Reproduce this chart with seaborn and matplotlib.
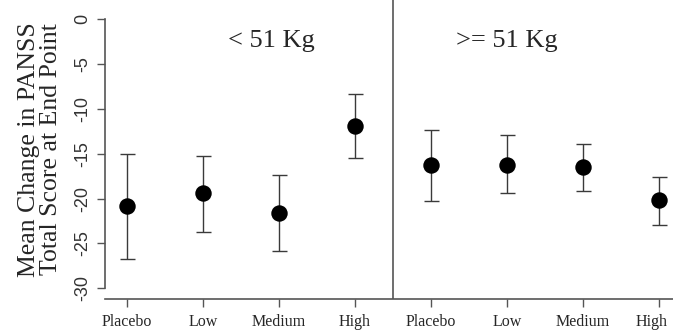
import matplotlib
matplotlib.use("Agg")
import matplotlib.pyplot as plt
import matplotlib.transforms as mtransforms
import seaborn as sns
import pandas as pd

doses = ["Placebo", "Low", "Medium", "High"]
groups = ["< 51 Kg", ">= 51 Kg"]
mean_change = [-20.8, -19.4, -21.6, -11.9, -16.2, -16.2, -16.5, -20.2]
upper = [-15.0, -15.2, -17.4, -8.3, -12.3, -12.9, -13.9, -17.6]
lower = [-26.7, -23.7, -25.8, -15.5, -20.3, -19.4, -19.1, -22.9]

df = pd.DataFrame({
    "pos": range(8),
    "dose": doses * 2,
    "group": [g for g in groups for _ in doses],
    "mean": mean_change,
    "upper": upper,
    "lower": lower,
})

sns.set_style("white")
serif = ["Liberation Serif", "DejaVu Serif"]

fig = plt.figure(figsize=(6.73, 3.31), dpi=100)
ax = fig.add_axes([105 / 673, 32 / 331, 568 / 673, 299 / 331])

ax.errorbar(df["pos"], df["mean"],
            yerr=[df["mean"] - df["lower"], df["upper"] - df["mean"]],
            fmt="none", ecolor="#3a3a3a", elinewidth=1.0, capsize=5.4, capthick=1.0)
sns.scatterplot(data=df, x="pos", y="mean", color="black", s=140,
                edgecolor="black", linewidth=0, ax=ax, zorder=3)

ax.axvline(3.5, color="#555555", lw=1.2)

ax.set_xlim(-0.285, 7.18)
ax.set_ylim(-31.2, 2.15)
ax.set_xticks(df["pos"])
ax.set_xticklabels(df["dose"], family=serif, fontsize=11.5)
ax.set_yticks(range(-30, 1, 5))
ax.set_yticklabels([str(v) for v in range(-30, 1, 5)], rotation=90, va="center",
                   family=["Liberation Sans"], fontsize=13, color="#333333")
ax.tick_params(axis="both", direction="out", length=6, width=1, color="#555555",
               left=True, bottom=True)
ax.tick_params(axis="x", pad=5)
ax.tick_params(axis="y", pad=4)

# the last label sits at the figure edge; nudge it inward like the original
last = ax.get_xticklabels()[-1]
last.set_transform(last.get_transform() +
                   mtransforms.ScaledTranslation(-8 / 100, 0, fig.dpi_scale_trans))

for side in ["top", "right"]:
    ax.spines[side].set_visible(False)
for side in ["left", "bottom"]:
    ax.spines[side].set_color("#555555")
    ax.spines[side].set_linewidth(1.2)
ax.spines["left"].set_bounds(-30, 0)

ax.set_xlabel("")
ax.set_ylabel("Mean Change in PANSS\nTotal Score at End Point", family=serif,
              fontsize=18.5, linespacing=1.0, labelpad=9)

ax.text(1.9, -2.4, groups[0], family=serif, fontsize=19, ha="center", va="center")
ax.text(5.0, -2.4, groups[1], family=serif, fontsize=19, ha="center", va="center")

fig.savefig("out.png", dpi=100)
